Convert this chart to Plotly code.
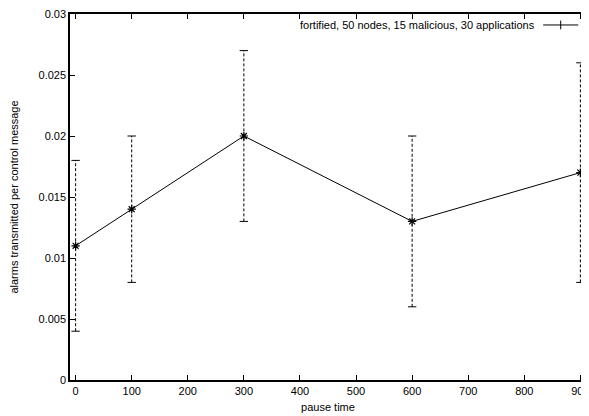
import plotly.graph_objects as go

pause_time = [0, 100, 300, 600, 900]
alarms = [0.011, 0.014, 0.020, 0.013, 0.017]
err_low = [0.004, 0.008, 0.013, 0.006, 0.008]
err_high = [0.018, 0.020, 0.027, 0.020, 0.026]
x_ticks = [0, 100, 200, 300, 400, 500, 600, 700, 800, 900]
y_ticks = [0, 0.005, 0.01, 0.015, 0.02, 0.025, 0.03]
y_tick_text = ["0", "0.005", "0.01", "0.015", "0.02", "0.025", "0.03"]
legend_label = "fortified, 50 nodes, 15 malicious, 30 applications"

FONT = "Liberation Sans, Arial, Helvetica, sans-serif"

fig = go.Figure()

# dashed error bars
ex, ey = [], []
for x, lo, hi in zip(pause_time, err_low, err_high):
    ex += [x, x, None]
    ey += [lo, hi, None]
fig.add_trace(go.Scatter(x=ex, y=ey, mode="lines",
                         line=dict(color="black", width=1, dash="3px,2px"),
                         showlegend=False, hoverinfo="skip", cliponaxis=False))
# caps
fig.add_trace(go.Scatter(x=pause_time + pause_time, y=err_low + err_high, mode="markers",
                         marker=dict(symbol="line-ew", size=6, line=dict(color="black", width=1)),
                         showlegend=False, hoverinfo="skip", cliponaxis=False))
# main line
fig.add_trace(go.Scatter(x=pause_time, y=alarms, mode="lines+markers",
                         line=dict(color="black", width=1),
                         marker=dict(symbol="asterisk-open", size=7, line=dict(color="black", width=1.2)),
                         showlegend=False, cliponaxis=False))

# legend text + sample (gnuplot style: text then sample)
fig.add_annotation(xref="paper", yref="paper", x=0.905, y=0.97, xanchor="right", yanchor="middle",
                   text=legend_label, showarrow=False, font=dict(family=FONT, size=11, color="black"))
fig.add_shape(type="line", xref="paper", yref="paper", x0=0.917, x1=0.985, y0=0.97, y1=0.97,
              line=dict(color="black", width=1))
fig.add_shape(type="line", xref="paper", yref="paper", x0=0.951, x1=0.951, y0=0.958, y1=0.982,
              line=dict(color="black", width=1))

axis_common = dict(showline=True, linecolor="black", linewidth=1.5, mirror="ticks",
                   ticks="inside", ticklen=5, tickcolor="black", tickwidth=1,
                   showgrid=False, zeroline=False, automargin=False,
                   ticklabeloverflow="allow",
                   tickfont=dict(family=FONT, size=11, color="black"))

fig.update_xaxes(range=[-10, 910], tickvals=x_ticks,
                 title=dict(text="pause time", font=dict(family=FONT, size=11, color="black"), standoff=7),
                 **axis_common)
fig.update_yaxes(range=[0, 0.03], tickvals=y_ticks, ticktext=y_tick_text,
                 title=dict(text="alarms transmitted per control message",
                            font=dict(family=FONT, size=11, color="black"), standoff=21),
                 **axis_common)

# page body adds an 8px margin; compensate so the plot area matches the reference
fig.update_layout(width=581, height=408, margin=dict(l=62, r=3, t=6, b=36),
                  plot_bgcolor="white", paper_bgcolor="white",
                  font=dict(family=FONT, size=11, color="black"))

fig.write_html("out.html")
